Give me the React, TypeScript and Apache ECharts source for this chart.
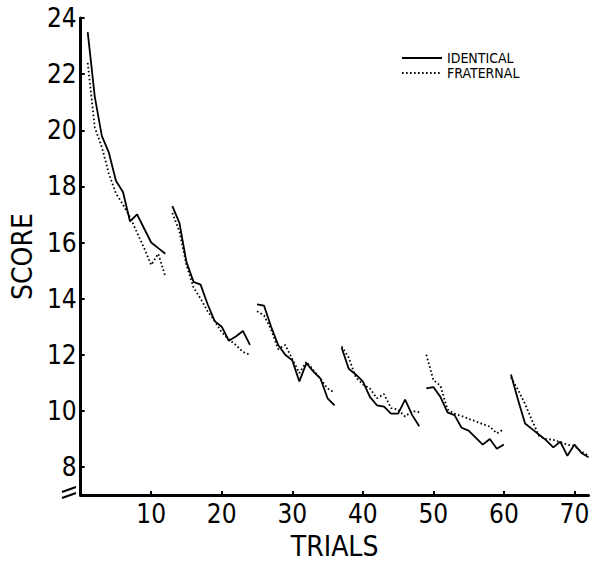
import React, { useEffect, useRef } from "react";
import * as echarts from "echarts";

// First trial number of each block of 12 trials
const blockStarts = [1, 13, 25, 37, 49, 61];

// Identical twins, mean score per trial, by block
const identicalBlocks = [
  [23.5, 21.2, 19.8, 19.2, 18.2, 17.8, 16.75, 17.0, 16.5, 16.0, 15.8, 15.6],
  [17.3, 16.7, 15.3, 14.6, 14.5, 13.8, 13.2, 13.0, 12.5, 12.65, 12.85, 12.35],
  [13.8, 13.75, 13.0, 12.35, 12.0, 11.8, 11.05, 11.7, 11.4, 11.15, 10.45, 10.2],
  [12.25, 11.5, 11.3, 11.05, 10.5, 10.2, 10.15, 9.9, 9.9, 10.4, 9.85, 9.45],
  [10.8, 10.85, 10.5, 9.95, 9.85, 9.4, 9.3, 9.05, 8.8, 9.0, 8.65, 8.8],
  [11.3, 10.4, 9.55, 9.35, 9.15, 8.95, 8.7, 8.9, 8.4, 8.8, 8.5, 8.35],
];

// Fraternal twins, mean score per trial, by block
const fraternalBlocks = [
  [22.4, 20.1, 19.4, 18.45, 17.75, 17.35, 16.9, 16.35, 15.8, 15.2, 15.6, 14.8],
  [17.05, 16.4, 15.2, 14.4, 14.0, 13.55, 13.2, 12.8, 12.55, 12.35, 12.1, 12.0],
  [13.55, 13.4, 12.9, 12.2, 12.35, 11.85, 11.35, 11.75, 11.45, 11.15, 10.8, 10.65],
  [12.3, 11.9, 11.2, 10.95, 10.8, 10.45, 10.6, 10.1, 10.05, 9.8, 10.0, 9.95],
  [12.0, 11.1, 10.9, 10.05, 9.9, 9.82, 9.72, 9.63, 9.53, 9.44, 9.2, 9.35],
  [11.2, 10.75, 10.25, 9.65, 9.1, 9.0, 8.97, 8.88, 8.8, 8.75, 8.55, 8.4],
];

const xTicks = [10, 20, 30, 40, 50, 60, 70];
const yTicks = [8, 10, 12, 14, 16, 18, 20, 22, 24];

const FONT = "'Liberation Sans Narrow', 'DejaVu Sans Condensed', 'Liberation Sans', sans-serif";

export default function App() {
  const ref = useRef<HTMLDivElement>(null);

  useEffect(() => {
    if (!ref.current) return;
    const chart = echarts.init(ref.current, undefined, { renderer: "svg" });

    const series: any[] = [];
    identicalBlocks.forEach((vals, b) => {
      series.push({
        name: "IDENTICAL",
        type: "line",
        showSymbol: false,
        symbol: "none",
        data: vals.map((v, i) => [blockStarts[b] + i, v]),
        lineStyle: { color: "#000", width: 1.8, type: "solid" },
        itemStyle: { color: "#000" },
        z: 3,
      });
    });
    fraternalBlocks.forEach((vals, b) => {
      series.push({
        name: "FRATERNAL",
        type: "line",
        showSymbol: false,
        symbol: "none",
        data: vals.map((v, i) => [blockStarts[b] + i, v]),
        lineStyle: { color: "#000", width: 1.8, type: [1.6, 2.4] },
        itemStyle: { color: "#000" },
        z: 2,
      });
    });

    chart.setOption({
      animation: false,
      backgroundColor: "#fff",
      textStyle: { fontFamily: FONT, color: "#000" },
      grid: { left: 69, top: 18, right: 0, bottom: 63, containLabel: false },
      legend: {
        data: ["IDENTICAL", "FRATERNAL"],
        orient: "vertical",
        left: 401,
        top: 51,
        padding: 0,
        itemGap: 1,
        itemWidth: 40,
        itemHeight: 12,
        selectedMode: false,
        itemStyle: { opacity: 0 },
        textStyle: { fontFamily: FONT, fontSize: 14, lineHeight: 13, color: "#000" },
      },
      xAxis: {
        type: "value",
        min: 0,
        max: 72,
        name: "TRIALS",
        nameLocation: "middle",
        nameGap: 32,
        nameTextStyle: { fontFamily: FONT, fontSize: 28, color: "#000" },
        axisLine: { show: true, onZero: false, lineStyle: { color: "#000", width: 3 } },
        axisTick: { show: true, inside: true, length: 4, customValues: xTicks, lineStyle: { color: "#000", width: 2 } },
        axisLabel: { customValues: xTicks, fontFamily: FONT, fontSize: 26, color: "#000", margin: 6 },
        splitLine: { show: false },
      },
      yAxis: {
        type: "value",
        min: 7,
        max: 24,
        name: "SCORE",
        nameLocation: "middle",
        nameRotate: 90,
        nameGap: 32,
        nameTextStyle: { fontFamily: FONT, fontSize: 28, color: "#000" },
        axisLine: { show: true, onZero: false, lineStyle: { color: "#000", width: 3 } },
        axisTick: { show: true, inside: true, length: 4, customValues: yTicks, lineStyle: { color: "#000", width: 2 } },
        axisLabel: { customValues: yTicks, fontFamily: FONT, fontSize: 26, color: "#000", margin: 4 },
        splitLine: { show: false },
      },
      graphic: [
        {
          type: "line",
          shape: { x1: 62, y1: 492, x2: 76, y2: 487 },
          style: { stroke: "#000", lineWidth: 2 },
          z: 100,
        },
        {
          type: "line",
          shape: { x1: 62, y1: 498, x2: 76, y2: 493 },
          style: { stroke: "#000", lineWidth: 2 },
          z: 100,
        },
      ],
      series,
    });

    return () => chart.dispose();
  }, []);

  return (
    <div
      ref={ref}
      style={{ position: "fixed", left: 0, top: 0, width: 592, height: 565, background: "#fff" }}
    />
  );
}
